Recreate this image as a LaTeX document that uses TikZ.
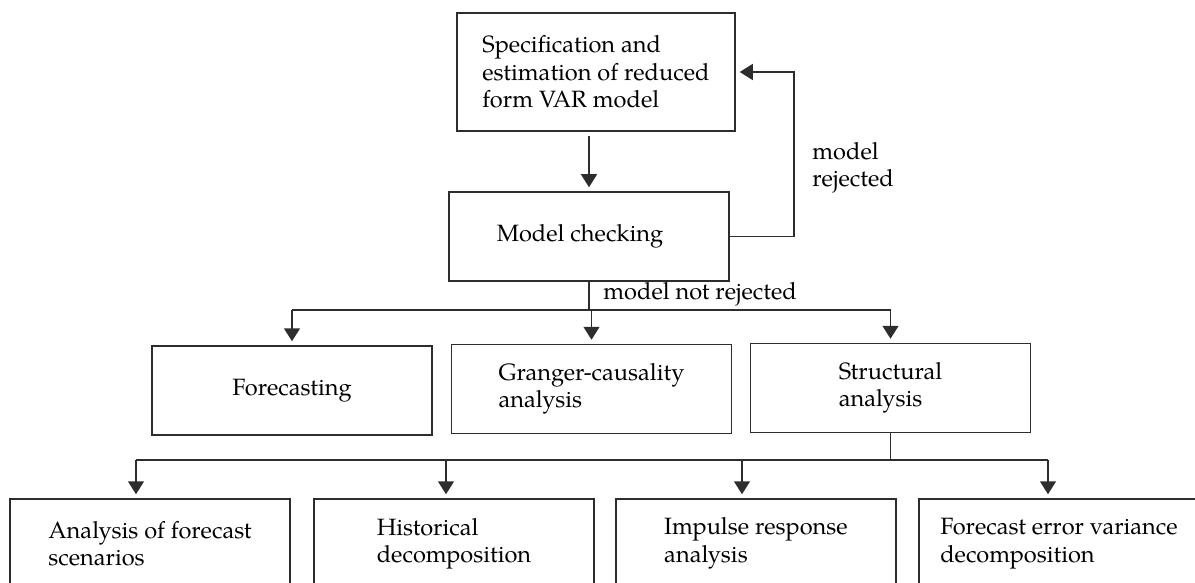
\documentclass[tikz,border=0pt]{standalone}
\usepackage{fontspec}
\setmainfont{TeX Gyre Pagella}
\usetikzlibrary{arrows.meta}

\begin{document}
\begin{tikzpicture}[x=0.5pt,y=0.5pt,yscale=-1,xscale=1,
  box/.style={draw={rgb, 255:red, 45; green, 45; blue, 45}, line width=0.75, minimum width=140pt, minimum height=44.5pt, inner sep=0pt, align=left, font=\fontsize{11.8}{13.75}\selectfont},
  wire/.style={color={rgb, 255:red, 45; green, 45; blue, 45}, line width=0.75},
  arr/.style={wire, -{Triangle[width=8pt,length=6.5pt]}, shorten >=2pt},
  lbl/.style={anchor=west, align=left, inner sep=0pt, font=\fontsize{11.8}{13.75}\selectfont}
]
%set diagram size: 1195 x 583
\clip (0,0) rectangle (1195,583);

%Shape: Rectangle [spec]
\node[box, minimum width=139pt, minimum height=59pt] (spec) at (596,72) {Specification and\\estimation of reduced\\form VAR model};
%Shape: Rectangle [check]
\node[box] (check) at (589,236.5) {Model checking\hspace*{9pt}};

%Shape: Rectangle [fore]
\node[box] (fore) at (292,390.5) {Forecasting};
%Shape: Rectangle [gran]
\node[box] (gran) at (591.5,389) {Granger-causality\\analysis};
%Shape: Rectangle [struct]
\node[box] (struct) at (890.5,388) {Structural\\analysis};

%Shape: Rectangle [scen]
\node[box] (scen) at (150,543.5) {Analysis of forecast\\scenarios};
%Shape: Rectangle [hist]
\node[box] (hist) at (454,543.5) {Historical\\decomposition};
%Shape: Rectangle [impulse]
\node[box] (impulse) at (756,543.5) {Impulse response\\analysis};
%Shape: Rectangle [fevd]
\node[box] (fevd) at (1059,543.5) {Forecast error variance\\decomposition};

%Straight Lines [spec -> check]
\draw[arr, shorten <=2pt] (spec.south -| check) -- (check.north);
%Straight Lines [model rejected]
\coordinate (back) at (794,150);
\draw[arr] (check.east) -| (back) |- (spec.east);
\node[lbl] (rej) at (812,168) {model\\rejected};

%Straight Lines [model not rejected]
\coordinate (split) at (590,310);
\draw[wire] (check.south) -- (check.south |- split);
\draw[wire] (fore |- split) -- (struct |- split);
\draw[arr] (fore |- split) -- (fore.north);
\draw[arr] (gran |- split) -- (gran.north);
\draw[arr] (struct |- split) -- (struct.north);
\node[lbl] (notrej) at (603,294) {model not rejected};

%Straight Lines [structural analysis]
\coordinate (t1) at (136,460);
\coordinate (t2) at (446,460);
\coordinate (t3) at (742,460);
\coordinate (t4) at (1048,460);
\draw[wire] (struct.south) -- (struct.south |- t1);
\draw[wire] (t1) -- (t4);
\draw[arr] (t1) -- (t1 |- scen.north);
\draw[arr] (t2) -- (t2 |- hist.north);
\draw[arr] (t3) -- (t3 |- impulse.north);
\draw[arr] (t4) -- (t4 |- fevd.north);

\end{tikzpicture}
\end{document}
